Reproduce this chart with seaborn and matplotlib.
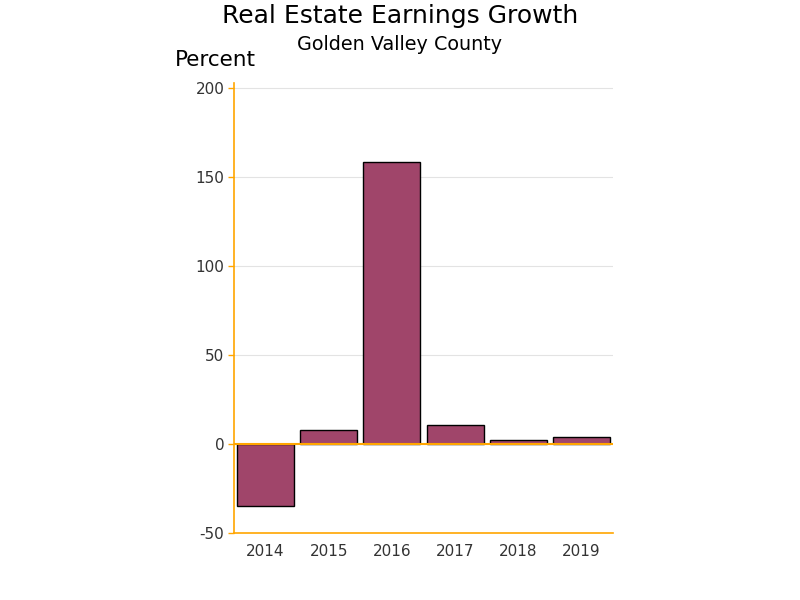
import pandas as pd
import numpy as np
import matplotlib
matplotlib.use("Agg")
import matplotlib.pyplot as plt
import seaborn as sns

# data
years = ["2014", "2015", "2016", "2017", "2018", "2019"]
growth = [-34.8, 7.9, 158.4, 10.7, 2.2, 3.9]
yticks = [-50, 0, 50, 100, 150, 200]

df = pd.DataFrame({"Year": years, "Percent": growth})

sns.set_style("white")
plt.rcParams['font.family'] = ['DejaVu Sans']

fig = plt.figure(figsize=(8, 6), dpi=100)
ax = fig.add_axes([0.2925, 0.1117, 0.47375, 0.75])

sns.barplot(data=df, x="Year", y="Percent", color="#A0456A", saturation=1,
            edgecolor="black", linewidth=1, width=0.9, ax=ax, zorder=3)

ax.set_xlim(-0.5, 5.5)
ax.set_ylim(-50, 203)
ax.set_yticks(yticks)
ax.set_yticklabels([str(t) for t in yticks], fontsize=11, color="#333333")
ax.tick_params(axis="x", labelsize=11, length=0, pad=8, labelcolor="#333333")
ax.tick_params(axis="y", left=True, length=4, color="orange", width=1, pad=3)

# light gridlines and orange zero line
for t in yticks[1:]:
    ax.axhline(t, color="#e3e3e3", linewidth=0.8, zorder=0)
ax.axhline(0, color="orange", linewidth=1.5, zorder=4)

for s in ["top", "right"]:
    ax.spines[s].set_visible(False)
ax.spines["left"].set_color("orange")
ax.spines["bottom"].set_color("orange")
ax.spines["left"].set_linewidth(1.2)
ax.spines["bottom"].set_linewidth(1.2)

ax.set_xlabel("")
ax.set_ylabel("")

fig.text(0.5, 0.973, "Real Estate Earnings Growth", ha="center", va="center",
         fontsize=18, color="black")
fig.text(0.5, 0.925, "Golden Valley County", ha="center", va="center",
         fontsize=13.8, color="black")
fig.text(0.269, 0.9, "Percent", ha="center", va="center", fontsize=15.5, color="black")

fig.savefig("out.png", dpi=100)
